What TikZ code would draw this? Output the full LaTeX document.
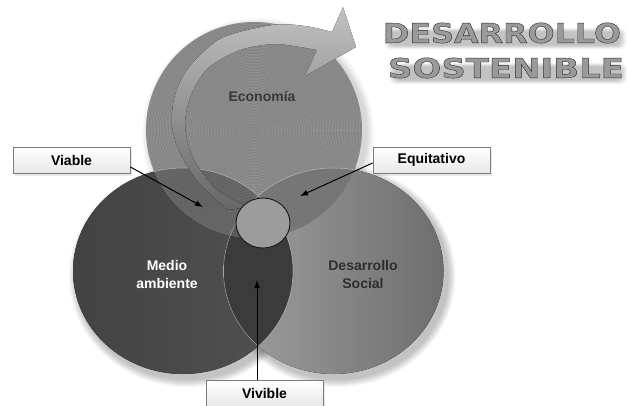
\documentclass[tikz,border=0pt]{standalone}
\usepackage{fontspec}
\setmainfont{Liberation Sans}
\newfontfamily\titlefont[FakeBold=1.4]{DejaVu Sans Bold}
\usetikzlibrary{arrows.meta,shadows}
\definecolor{boxgray}{HTML}{7C7C7C}
\definecolor{boxbot}{HTML}{E8E8E8}
\definecolor{tfill}{HTML}{9A9A9A}
\definecolor{ecobase}{HTML}{929292}
\definecolor{ecoleft}{HTML}{6C6C6C}
\definecolor{ecoright}{HTML}{7E7E7E}
\definecolor{lensc}{HTML}{3B3B3B}
\definecolor{smallc}{HTML}{9C9C9C}
% outlined title text: fill tfill, stroke dark
\newcommand{\outltext}[1]{\textcolor{tfill}{\special{pdf:literal direct 0.18 G}#1\special{pdf:literal direct 0.604 G}}}
\begin{document}
\begin{tikzpicture}[x=1pt,y=-1pt,
  lbl/.style={draw=boxgray,line width=0.8pt,top color=white,bottom color=boxbot,
    minimum width=117pt,minimum height=26pt,inner sep=0pt,
    font=\fontsize{14}{16}\selectfont\bfseries,text=black,
    drop shadow={opacity=0.18,shadow xshift=2pt,shadow yshift=-3pt}},
  ptr/.style={-{Latex[length=8pt,width=6pt]},line width=1pt,black},
  circtxt/.style={font=\fontsize{14}{18}\selectfont\bfseries,align=center,inner sep=0pt},
  ring/.style={black,opacity=0.15,line width=0.45pt},
  edge/.style={white,opacity=0.45,line width=0.5pt},
  tshadow/.style={black,opacity=0.035,rounded corners=6pt}]
\useasboundingbox[fill=white] (0,0) rectangle (628,405);
% centres
\coordinate (E) at (254,130);
\coordinate (M) at (183,271);
\coordinate (S) at (333.5,271);
\coordinate (C) at (263,223);
% soft shadows
\foreach \k in {1,...,8}{
  \pgfmathsetmacro{\rx}{110+\k}\pgfmathsetmacro{\ry}{103+\k}\pgfmathsetmacro{\re}{108+\k}
  \fill[black,opacity=0.03] ([shift={(4,5)}]M) ellipse [x radius=\rx pt,y radius=\ry pt];
  \fill[black,opacity=0.03] ([shift={(4,5)}]S) ellipse [x radius=\rx pt,y radius=\ry pt];
  \fill[black,opacity=0.02] ([shift={(4,4)}]E) circle [radius=\re pt];
}
% title shadows (soft blur)
\foreach \k in {0,...,6}{
  \fill[tshadow] (384+\k,28+\k*0.6) rectangle (626-\k,49-\k*0.6);
  \fill[tshadow] (389+\k,63+\k*0.6) rectangle (627-\k,84-\k*0.6);
}
% left circle
\fill[left color=black!74,middle color=black!60,right color=black!68] (M) ellipse [x radius=110pt,y radius=103pt];
% right circle
\fill[left color=black!37,middle color=black!42,right color=black!57] (S) ellipse [x radius=110pt,y radius=103pt];
% lens
\begin{scope}
  \clip (M) ellipse [x radius=110pt,y radius=103pt];
  \fill[lensc] (S) ellipse [x radius=110pt,y radius=103pt];
\end{scope}
\begin{scope}
  \clip (S) ellipse [x radius=110pt,y radius=103pt];
  \draw[edge] (M) ellipse [x radius=110pt,y radius=103pt];
\end{scope}
\begin{scope}
  \clip (M) ellipse [x radius=110pt,y radius=103pt];
  \draw[edge] (S) ellipse [x radius=110pt,y radius=103pt];
\end{scope}
% top circle
\fill[ecobase] (E) circle [radius=108pt];
\begin{scope}
  \clip (E) circle [radius=108pt];
  \fill[ecoleft] (M) ellipse [x radius=110pt,y radius=103pt];
  \fill[ecoright] (S) ellipse [x radius=110pt,y radius=103pt];
  \begin{scope}
    \clip (M) ellipse [x radius=110pt,y radius=103pt];
    \fill[black!62] (S) ellipse [x radius=110pt,y radius=103pt];
  \end{scope}
  \foreach \r in {1.5,3,...,108} \draw[ring] (E) circle [radius=\r pt];
  \draw[edge] (M) ellipse [x radius=110pt,y radius=103pt];
  \draw[edge] (S) ellipse [x radius=110pt,y radius=103pt];
\end{scope}
% sweeping arrow band
\fill[top color=black!24,middle color=black!50,bottom color=black!60]
  plot[smooth] coordinates {(228,210) (199,183) (180,153) (172,125) (175,95) (190,66) (222,38) (273,25) (305,26) (332,32)}
  -- (343,7) -- (356,47) -- (305,76) -- (317,50)
  -- plot[smooth] coordinates {(317,50) (276,44) (240,50) (208,68) (191,95) (185,125) (193,158) (216,189) (248,207)}
  -- cycle;
% central circle
\fill[smallc] (C) ellipse [x radius=27pt,y radius=25pt];
\draw[black!90,line width=0.9pt] (C) ellipse [x radius=27pt,y radius=25pt];
% circle texts
\node[circtxt,text=black!78] (eco) at (262,96) {Economía};
\node[circtxt,text=white] (med) at (167,274) {Medio\\ambiente};
\node[circtxt,text=black!82] (soc) at (363,274) {Desarrollo\\Social};
% labels
\node[lbl] (viable) at (71.5,160) {Viable};
\node[lbl] (equi) at (431.5,160) {Equitativo};
\node[lbl] (vivi) at (264.5,393) {Vivible};
\coordinate (vtip) at (203,207);
\coordinate (etip) at (300,196);
\coordinate (vvtip) at (257,280);
\draw[ptr] ([yshift=-7pt]viable.east) -- (vtip);
\draw[ptr] ([yshift=-3pt]equi.west) -- (etip);
\draw[ptr] ([xshift=-7.5pt]vivi.north) -- (vvtip);
% title
\node[inner sep=0pt] (t1) at (502,33) {\resizebox{238pt}{20pt}{\titlefont\outltext{DESARROLLO}}};
\node[inner sep=0pt] (t2) at (506,68) {\resizebox{236pt}{20pt}{\titlefont\outltext{SOSTENIBLE}}};
\end{tikzpicture}
\end{document}
